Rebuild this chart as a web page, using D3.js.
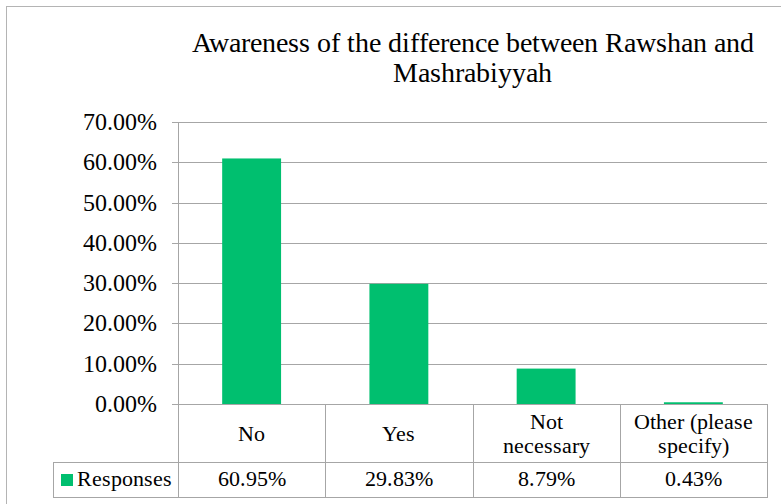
<!DOCTYPE html>
<html>
<head>
<meta charset="utf-8">
<script src="https://cdn.jsdelivr.net/npm/d3@7"></script>
<style>
  @font-face {
    font-family: "ChartSerif";
    src: local("Liberation Serif"), local("LiberationSerif"), local("LiberationSerif-Regular"), local("Times New Roman"), local("Tinos");
  }
  body { margin: 0; background: #fff; }
</style>
</head>
<body>
<svg id="chart" width="781" height="504" font-family="ChartSerif, 'Liberation Serif', 'Times New Roman', serif"></svg>
<script>
// data
const titleLines = ["Awareness of the difference between Rawshan and", "Mashrabiyyah"];
const categories = ["No", "Yes", "Not necessary", "Other (please specify)"];
const categoryLines = [["No"], ["Yes"], ["Not", "necessary"], ["Other (please", "specify)"]];
const seriesName = "Responses";
const values = [60.95, 29.83, 8.79, 0.43];
const yTicks = [0, 10, 20, 30, 40, 50, 60, 70];

const PLOT = { LEFT: 178, RIGHT: 767, TOP: 122, BOTTOM: 404 };
const ROW1 = 462, ROW2 = 497, TABLE_LEFT = 53;
const GREEN = "#00bf6f", GRID = "#a6a6a6";
const FONT = "ChartSerif, 'Liberation Serif', 'Times New Roman', serif";

const svg = d3.select("#chart");

// outer chart frame
svg.append("rect")
  .attr("x", 6.5).attr("y", 6.5)
  .attr("width", 790).attr("height", 520)
  .attr("fill", "none")
  .attr("stroke", "#b4b4b4");

// title
svg.append("text")
  .attr("font-family", FONT)
  .attr("text-anchor", "middle")
  .attr("font-size", "27.5px")
  .selectAll("tspan")
  .data(titleLines)
  .enter()
  .append("tspan")
    .attr("x", (PLOT.LEFT + PLOT.RIGHT) / 2)
    .attr("y", (d, i) => 52 + i * 30)
    .text(d => d);

// scales
const x = d3.scaleBand()
  .domain(categories)
  .range([PLOT.LEFT, PLOT.RIGHT])
  .paddingInner(0.6)
  .paddingOuter(0.3);

const xCell = d3.scaleBand()
  .domain(categories)
  .range([PLOT.LEFT, PLOT.RIGHT]);

const y = d3.scaleLinear()
  .domain([0, 70])
  .range([PLOT.BOTTOM, PLOT.TOP]);

// gridlines
svg.append("g")
  .selectAll("line")
  .data(yTicks)
  .enter()
  .append("line")
    .attr("x1", PLOT.LEFT - 6)
    .attr("x2", PLOT.RIGHT)
    .attr("y1", d => Math.round(y(d)) + 0.5)
    .attr("y2", d => Math.round(y(d)) + 0.5)
    .attr("stroke", GRID);

// y axis labels
const yAxisCall = d3.axisLeft(y)
  .tickValues(yTicks)
  .tickSize(0)
  .tickPadding(21)
  .tickFormat(d => d3.format(".2f")(d) + "%");

const yAxis = svg.append("g")
  .attr("transform", `translate(${PLOT.LEFT}, 0)`)
  .call(yAxisCall)
  .attr("font-family", FONT)
  .attr("font-size", "24px");
yAxis.select(".domain").remove();
yAxis.selectAll("text")
  .attr("dy", "0.31em")
  .attr("fill", "#000");

svg.append("line")
  .attr("x1", PLOT.LEFT + 0.5).attr("x2", PLOT.LEFT + 0.5)
  .attr("y1", PLOT.TOP).attr("y2", PLOT.BOTTOM)
  .attr("stroke", GRID);

// bars
svg.append("g")
  .selectAll("rect")
  .data(values)
  .enter()
  .append("rect")
    .attr("x", (d, i) => x(categories[i]))
    .attr("y", d => y(d))
    .attr("width", x.bandwidth())
    .attr("height", d => PLOT.BOTTOM - y(d))
    .attr("fill", GREEN);

// data table grid
const table = svg.append("g").attr("stroke", GRID).attr("fill", "none");
table.append("line")
  .attr("x1", PLOT.LEFT).attr("x2", PLOT.RIGHT + 0.5)
  .attr("y1", PLOT.BOTTOM + 0.5).attr("y2", PLOT.BOTTOM + 0.5);
table.append("line")
  .attr("x1", TABLE_LEFT).attr("x2", PLOT.RIGHT + 0.5)
  .attr("y1", ROW1 + 0.5).attr("y2", ROW1 + 0.5);
table.append("line")
  .attr("x1", TABLE_LEFT).attr("x2", PLOT.RIGHT + 0.5)
  .attr("y1", ROW2 + 0.5).attr("y2", ROW2 + 0.5);
table.append("line")
  .attr("x1", TABLE_LEFT + 0.5).attr("x2", TABLE_LEFT + 0.5)
  .attr("y1", ROW1).attr("y2", ROW2 + 1);
table.selectAll("line.col")
  .data(categories)
  .enter()
  .append("line")
    .attr("class", "col")
    .attr("x1", d => Math.round(xCell(d)) + 0.5)
    .attr("x2", d => Math.round(xCell(d)) + 0.5)
    .attr("y1", PLOT.BOTTOM).attr("y2", ROW2 + 1);
table.append("line")
  .attr("x1", PLOT.RIGHT + 0.5).attr("x2", PLOT.RIGHT + 0.5)
  .attr("y1", PLOT.BOTTOM).attr("y2", ROW2 + 1);

// category labels (split the way excel wraps them)
const mid = (PLOT.BOTTOM + ROW1) / 2;
const lh = 24.5;
svg.append("g")
  .attr("font-family", FONT)
  .attr("font-size", "22px")
  .attr("text-anchor", "middle")
  .selectAll("text")
  .data(categories)
  .enter()
  .append("text")
  .each(function (d, i) {
    const lines = categoryLines[i];
    d3.select(this).selectAll("tspan")
      .data(lines)
      .enter()
      .append("tspan")
        .attr("x", xCell(d) + xCell.bandwidth() / 2)
        .attr("y", (t, j) => mid + 8 + (j - (lines.length - 1) / 2) * lh)
        .text(t => t);
  });

// value row
svg.append("g")
  .attr("font-family", FONT)
  .attr("font-size", "22px")
  .attr("text-anchor", "middle")
  .selectAll("text")
  .data(values)
  .enter()
  .append("text")
    .attr("x", (d, i) => xCell(categories[i]) + xCell.bandwidth() / 2)
    .attr("y", 486)
    .text(d => d3.format(".2f")(d) + "%");

// legend key
svg.append("rect")
  .attr("x", 61).attr("y", 474)
  .attr("width", 12).attr("height", 12)
  .attr("fill", GREEN);
svg.append("text")
  .attr("font-family", FONT)
  .attr("x", 77)
  .attr("y", 486)
  .attr("font-size", "22px")
  .text(seriesName);
</script>
</body>
</html>
